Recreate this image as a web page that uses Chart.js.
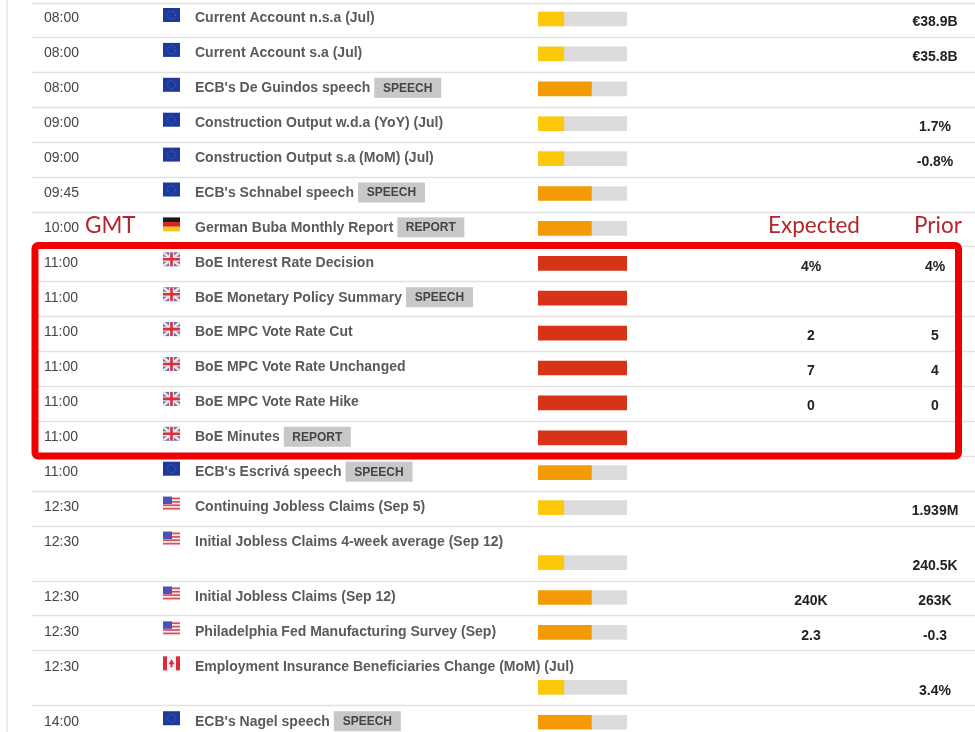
<!DOCTYPE html>
<html><head><meta charset="utf-8">
<style>html,body{margin:0;padding:0;background:#fff}canvas{display:block}</style>
<script src="https://cdn.jsdelivr.net/npm/chart.js@4"></script>
</head><body><canvas id="c" width="975" height="732"></canvas>
<script>
const times=["08:00","08:00","08:00","09:00","09:00","09:45","10:00","11:00","11:00","11:00","11:00","11:00","11:00","11:00","12:30","12:30","12:30","12:30","12:30","14:00"];
const events=["Current Account n.s.a (Jul)","Current Account s.a (Jul)","ECB's De Guindos speech","Construction Output w.d.a (YoY) (Jul)","Construction Output s.a (MoM) (Jul)","ECB's Schnabel speech","German Buba Monthly Report","BoE Interest Rate Decision","BoE Monetary Policy Summary","BoE MPC Vote Rate Cut","BoE MPC Vote Rate Unchanged","BoE MPC Vote Rate Hike","BoE Minutes","ECB's Escrivá speech","Continuing Jobless Claims (Sep 5)","Initial Jobless Claims 4-week average (Sep 12)","Initial Jobless Claims (Sep 12)","Philadelphia Fed Manufacturing Survey (Sep)","Employment Insurance Beneficiaries Change (MoM) (Jul)","ECB's Nagel speech"];
const tags=["","","SPEECH","","","SPEECH","REPORT","","SPEECH","","","","REPORT","SPEECH","","","","","","SPEECH"];
const countries=["eu","eu","eu","eu","eu","eu","de","uk","uk","uk","uk","uk","uk","eu","us","us","us","us","ca","eu"];
const impact=[29,29,60,29,29,60,60,100,100,100,100,100,100,60,29,29,60,60,29,60];
const expected=["","","","","","","","4%","","2","7","0","","","","","240K","2.3","",""];
const prior=["€38.9B","€35.8B","","1.7%","-0.8%","","","4%","","5","4","0","","","1.939M","240.5K","263K","-0.3","3.4%",""];
const wrapped=[0,0,0,0,0,0,0,0,0,0,0,0,0,0,0,1,0,0,1,0];
const annotations=["GMT","Expected","Prior"];

const impactColor={29:"#fdc80a",60:"#f39a06",100:"#d63318"};
let slot=-1;
const slots=wrapped.map(w=>{slot+=1+w*0.575;return slot;});
const rowPx=34.9, firstPx=19;

function flag(ctx,kind,x,y){
  const w=17,h=14;
  ctx.save();
  if(kind==="eu"){
    ctx.fillStyle="#1b3a9b";ctx.fillRect(x,y,w,h);
    ctx.strokeStyle="#5a72b8";ctx.lineWidth=1;ctx.setLineDash([1,1.4]);
    ctx.beginPath();ctx.arc(x+w/2,y+h/2,4,0,Math.PI*2);ctx.stroke();
  }else if(kind==="de"){
    ctx.fillStyle="#1a1a1a";ctx.fillRect(x,y,w,h/3);
    ctx.fillStyle="#d9231c";ctx.fillRect(x,y+h/3,w,h/3);
    ctx.fillStyle="#f6c81c";ctx.fillRect(x,y+2*h/3,w,h/3);
  }else if(kind==="uk"){
    ctx.fillStyle="#6a6da6";ctx.fillRect(x,y,w,h);
    ctx.beginPath();ctx.rect(x,y,w,h);ctx.clip();
    ctx.strokeStyle="#e9e3e8";ctx.lineWidth=2.6;
    ctx.beginPath();ctx.moveTo(x,y);ctx.lineTo(x+w,y+h);ctx.moveTo(x+w,y);ctx.lineTo(x,y+h);ctx.stroke();
    ctx.lineWidth=5;ctx.beginPath();ctx.moveTo(x+w/2,y);ctx.lineTo(x+w/2,y+h);ctx.moveTo(x,y+h/2);ctx.lineTo(x+w,y+h/2);ctx.stroke();
    ctx.strokeStyle="#d8303a";ctx.lineWidth=2.6;
    ctx.beginPath();ctx.moveTo(x+w/2,y);ctx.lineTo(x+w/2,y+h);ctx.moveTo(x,y+h/2);ctx.lineTo(x+w,y+h/2);ctx.stroke();
  }else if(kind==="us"){
    ctx.fillStyle="#f4eef0";ctx.fillRect(x,y,w,h);
    ctx.fillStyle="#d8505a";
    for(let i=0;i<4;i++)ctx.fillRect(x,y+1+i*3.4,w,1.7);
    ctx.fillStyle="#4d52b4";ctx.fillRect(x,y,9,7.5);
  }else{
    ctx.fillStyle="#fbf4f4";ctx.fillRect(x,y,w,h);
    ctx.fillStyle="#dc2b3a";ctx.fillRect(x,y,4,h);ctx.fillRect(x+w-4,y,4,h);
    ctx.beginPath();ctx.moveTo(x+w/2,y+3);ctx.lineTo(x+w/2+3,y+8);ctx.lineTo(x+w/2+1,y+8);ctx.lineTo(x+w/2+1,y+11);ctx.lineTo(x+w/2-1,y+11);ctx.lineTo(x+w/2-1,y+8);ctx.lineTo(x+w/2-3,y+8);ctx.closePath();ctx.fill();
  }
  ctx.restore();
}

const tablePlugin={
  id:"table",
  beforeDatasetsDraw(chart){
    const ctx=chart.ctx,ys=chart.scales.y;
    ctx.save();
    ctx.fillStyle="#ececec";ctx.fillRect(6,0,2,732);
    ctx.strokeStyle="#e2e2e2";ctx.lineWidth=1.3;
    ctx.beginPath();ctx.moveTo(32,3.5);ctx.lineTo(975,3.5);
    slots.forEach(s=>{const y=Math.round(ys.getPixelForValue(s)+18)+.5;ctx.moveTo(32,y);ctx.lineTo(975,y);});
    ctx.stroke();
    ctx.restore();
  },
  afterDatasetsDraw(chart){
    const ctx=chart.ctx,ys=chart.scales.y;
    ctx.save();
    ctx.textBaseline="middle";
    slots.forEach((s,i)=>{
      const by=ys.getPixelForValue(s);
      const ty=by-(wrapped[i]?20.5:0.5);
      ctx.textAlign="left";
      ctx.font="14px 'Liberation Sans'";ctx.fillStyle="#444";
      ctx.fillText(times[i],44,ty);
      flag(ctx,countries[i],163,ty-10.5);
      ctx.font="bold 14px 'Liberation Sans'";ctx.fillStyle="#5a5a5a";
      ctx.fillText(events[i],195,ty);
      if(tags[i]){
        const x=195+ctx.measureText(events[i]).width+4;
        ctx.fillStyle="#c8c8c8";ctx.fillRect(x,ty-10.5,67,20);
        ctx.font="bold 12px 'Liberation Sans'";ctx.fillStyle="#444";
        ctx.textAlign="center";ctx.fillText(tags[i],x+33.5,ty);
      }
      ctx.textAlign="center";ctx.font="bold 14px 'Liberation Sans'";ctx.fillStyle="#222";
      if(expected[i])ctx.fillText(expected[i],811,by+3.5);
      if(prior[i])ctx.fillText(prior[i],935,by+3.5);
    });
    ctx.fillStyle="#b3262e";ctx.font="22.5px Lato";
    ctx.textAlign="left";ctx.fillText(annotations[0],85,226);
    ctx.fillText(annotations[1],768,226);
    ctx.fillText(annotations[2],914,226);
    ctx.strokeStyle="#f00000";ctx.lineWidth=7;
    ctx.beginPath();ctx.roundRect(35,245.5,923.5,210.5,3);ctx.stroke();
    ctx.restore();
  }
};

new Chart(document.getElementById("c"),{
  type:"bar",
  data:{labels:events,datasets:[
    {label:"Impact",data:slots.map((s,i)=>({y:s,x:impact[i]})),backgroundColor:impact.map(v=>impactColor[v])},
    {label:"Remainder",data:slots.map((s,i)=>({y:s,x:100-impact[i]})),backgroundColor:"#dcdcdc"}
  ]},
  options:{
    indexAxis:"y",responsive:false,animation:false,
    barThickness:14,
    layout:{padding:{left:538,right:348,top:0,bottom:0}},
    plugins:{legend:{display:false},tooltip:{enabled:false},title:{display:false}},
    scales:{
      x:{type:"linear",stacked:true,min:0,max:100,display:false},
      y:{type:"linear",stacked:true,reverse:true,offset:false,min:-firstPx/rowPx,max:(732-firstPx)/rowPx,display:false}
    }
  },
  plugins:[tablePlugin]
});
</script></body></html>
